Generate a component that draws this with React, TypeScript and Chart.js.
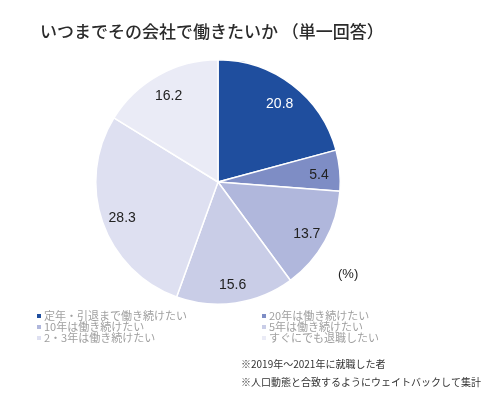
import React, { useEffect, useRef } from "react";
import { Chart, registerables } from "chart.js";

Chart.register(...registerables);

const categories = [
  "定年・引退まで働き続けたい",
  "20年は働き続けたい",
  "10年は働き続けたい",
  "5年は働き続けたい",
  "2・3年は働き続けたい",
  "すぐにでも退職したい",
];
const values = [20.8, 5.4, 13.7, 15.6, 28.3, 16.2];
const colors = ["#1F4E9E", "#7E8DC5", "#B0B7DC", "#C9CDE7", "#DEE0F1", "#EAEBF6"];
const labelColors = ["#FFFFFF", "#222222", "#222222", "#222222", "#222222", "#222222"];
const title = "いつまでその会社で働きたいか （単一回答）";
const notes = ["※2019年～2021年に就職した者", "※人口動態と合致するようにウェイトバックして集計"];
const unitLabel = "(%)";

const JP = '"Noto Sans CJK JP", "Noto Sans", sans-serif';
const NUM = '"Liberation Sans", Arial, sans-serif';

const overlayPlugin = {
  id: "overlay",
  afterDatasetsDraw(chart: any) {
    const ctx = chart.ctx;
    const meta = chart.getDatasetMeta(0);
    ctx.save();
    // slice labels
    meta.data.forEach((arc: any, i: number) => {
      const { x, y, startAngle, endAngle, outerRadius } = arc.getProps(
        ["x", "y", "startAngle", "endAngle", "outerRadius"],
        true
      );
      const mid = (startAngle + endAngle) / 2;
      const r = outerRadius * 0.83;
      ctx.font = `14px ${NUM}`;
      ctx.fillStyle = labelColors[i];
      ctx.textAlign = "center";
      ctx.textBaseline = "middle";
      ctx.fillText(values[i].toFixed(1), x + Math.cos(mid) * r, y + Math.sin(mid) * r + 3);
    });
    // title
    ctx.font = `500 17px ${JP}`;
    ctx.fillStyle = "#2B2B2B";
    ctx.textAlign = "left";
    ctx.textBaseline = "middle";
    ctx.fillText(title, 40, 32);
    // unit
    ctx.font = `13px ${NUM}`;
    ctx.fillStyle = "#222222";
    ctx.fillText(unitLabel, 338, 274);
    // legend
    ctx.font = `11px ${JP}`;
    categories.forEach((c, i) => {
      const col = i % 2;
      const row = Math.floor(i / 2);
      const bx = col === 0 ? 37 : 262;
      const by = 316 + row * 11;
      ctx.fillStyle = colors[i];
      ctx.fillRect(bx, by - 2, 4, 4);
      ctx.fillStyle = "#A0A0A0";
      ctx.fillText(c, bx + 7, by);
    });
    // notes
    ctx.font = `10px ${JP}`;
    ctx.fillStyle = "#333333";
    notes.forEach((n, i) => ctx.fillText(n, 241, 364 + i * 18));
    ctx.restore();
  },
};

export default function App() {
  const ref = useRef<HTMLCanvasElement>(null);
  useEffect(() => {
    if (!ref.current) return;
    const chart = new Chart(ref.current, {
      type: "pie",
      data: {
        labels: categories,
        datasets: [
          {
            data: values,
            backgroundColor: colors,
            borderColor: "#FFFFFF",
            borderWidth: 1.5,
          },
        ],
      },
      options: {
        responsive: false,
        animation: false,
        layout: { padding: { left: 95, right: 149, top: 59, bottom: 94 } },
        plugins: {
          legend: { display: false },
          tooltip: { enabled: false },
          title: { display: false },
        },
      },
      plugins: [overlayPlugin],
    });
    return () => chart.destroy();
  }, []);
  return (
    <div style={{ position: "fixed", left: 0, top: 0, width: 490, height: 399, background: "#fff" }}>
      <canvas ref={ref} width={490} height={399} style={{ width: 490, height: 399 }} />
    </div>
  );
}
